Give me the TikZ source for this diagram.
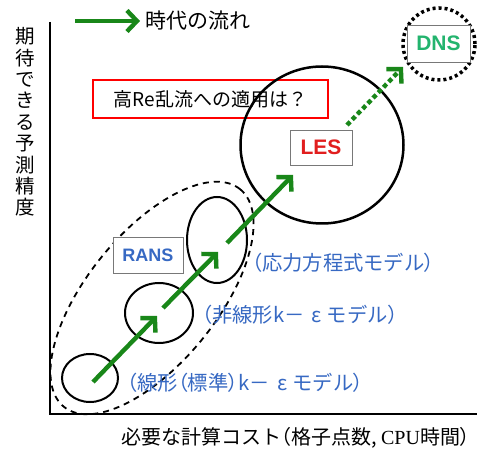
\documentclass[tikz,border=0pt]{standalone}
\usepackage{fontspec}
\setmainfont{Noto Sans CJK JP}
\newfontfamily\arialf{Liberation Sans}
\newfontfamily\seriff{Liberation Serif}
\newcommand{\jlp}{{\addfontfeature{RawFeature=+palt}（}}
\newcommand{\jrp}{{\addfontfeature{RawFeature=+palt}）}}
\newcommand{\feps}{\hspace{0.35em}ε\hspace{0.25em}}
\usetikzlibrary{arrows.meta,shapes.geometric}
\definecolor{agreen}{RGB}{25,135,25}
\definecolor{dnsgreen}{RGB}{35,180,110}
\definecolor{lesred}{RGB}{225,30,30}
\definecolor{lblue}{RGB}{55,105,195}
\definecolor{boxgray}{RGB}{120,120,120}
\begin{document}
\begin{tikzpicture}[x=1pt,y=-1pt,
  every node/.style={inner sep=0pt, outer sep=0pt},
  jtext/.style={font=\fontsize{19}{22}\selectfont},
  bluelbl/.style={font=\fontsize{20.3}{22}\selectfont, text=lblue, anchor=west},
  garrow/.style={draw=agreen, line width=4.4pt, -{Straight Barb[length=10pt,width=21pt]}},
  gdot/.style={garrow, dash pattern=on 4.5pt off 3pt},
  blob/.style={draw, ellipse, line width=2pt},
  tagbox/.style={draw=boxgray, fill=white, line width=0.8pt, font=\arialf\bfseries\fontsize{21}{24}\selectfont}
]
\useasboundingbox (0,0) rectangle (479,454);
\fill[white] (0,0) rectangle (479,454);

% axes
\coordinate (ytop) at (50,22);
\coordinate (orig) at (50,414);
\coordinate (xend) at (477,414);
\draw[line width=2.5pt] (ytop) -- (orig) -- (xend);
\node[align=center, font=\fontsize{19.5}{21.4}\selectfont] (ylab) at (25,122) {期\\待\\で\\き\\る\\予\\測\\精\\度};
\node[font=\fontsize{20}{22}\selectfont, anchor=east] (xlab) at (470,438) {必要な計算コスト\jlp 格子点数, {\seriff CPU}時間\jrp};

% legend
\coordinate (lgA) at (75,21);
\coordinate (lgB) at (140,21);
\draw[garrow] (lgA) -- (lgB);
\node[font=\fontsize{21}{24}\selectfont, anchor=west] (lgtext) at (145,21) {時代の流れ};

% question box
\node[draw=red, line width=2pt, minimum width=235pt, minimum height=38pt, jtext] (q) at (210.5,99) {高Re乱流への適用は？};

% LES / DNS
\node[blob, line width=2.5pt, minimum width=163pt, minimum height=157pt] (lescirc) at (322,145) {};
\node[draw, ellipse, line width=3.5pt, dash pattern=on 3pt off 3pt, minimum width=72pt, minimum height=72pt] (dnscirc) at (439,44) {};
\node[tagbox, text=lesred, minimum width=62pt, minimum height=35pt] (les) at (321,147.5) {LES};
\node[tagbox, text=dnsgreen, minimum width=63pt, minimum height=37pt] (dns) at (438.5,43.5) {DNS};

% RANS group
\node[draw, ellipse, line width=1.8pt, dash pattern=on 6pt off 5pt, rotate=51, minimum width=280pt, minimum height=130pt] (ranszone) at (152,298) {};
\node[blob, minimum width=56pt, minimum height=48pt] (e1) at (90,378) {};
\node[blob, minimum width=68pt, minimum height=60pt] (e2) at (159,313) {};
\node[blob, minimum width=60pt, minimum height=86pt] (e3) at (217,240) {};
\node[tagbox, text=lblue, font=\arialf\bfseries\fontsize{18}{22}\selectfont, minimum width=70pt, minimum height=36pt] (rans) at (148,255) {RANS};

% arrows
\coordinate (a1s) at (93,382);
\coordinate (a1e) at (157,316);
\coordinate (a2s) at (163,308);
\coordinate (a2e) at (218,252);
\coordinate (a3s) at (227,243);
\coordinate (a3e) at (293,175);
\coordinate (a4s) at (347,125);
\coordinate (a4e) at (403,67);
\draw[garrow] (a1s) -- (a1e);
\draw[garrow] (a2s) -- (a2e);
\draw[garrow] (a3s) -- (a3e);
\draw[gdot] (a4s) -- (a4e);

% labels
\node[bluelbl] (l3) at (252,263) {\jlp 応力方程式モデル\jrp};
\node[bluelbl] (l2) at (202,315) {\jlp 非線形k－\feps モデル\jrp};
\node[bluelbl] (l1) at (127,383) {\jlp 線形\jlp 標準\jrp k－\feps モデル\jrp};
\end{tikzpicture}
\end{document}
